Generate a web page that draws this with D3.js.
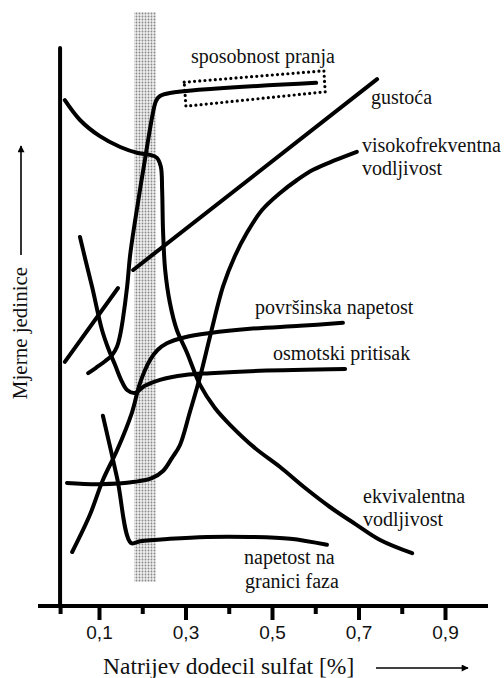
<!DOCTYPE html>
<html>
<head>
<meta charset="utf-8">
<script src="https://cdn.jsdelivr.net/npm/d3@7"></script>
<style>
  body { margin: 0; background: #fff; }
  svg { display: block; }
</style>
</head>
<body>
<svg id="chart" width="504" height="678"></svg>
<script>
// concentration values (%) and readings (arbitrary units, 0-100)
var majorTicks = [0.1, 0.3, 0.5, 0.7, 0.9];
var minorTicks = [0.2, 0.4, 0.6, 0.8];
var cmcBand = [0.181, 0.232];

var pranja = [[0.075,38.8],[0.093,39.7],[0.114,40.8],[0.130,41.8],[0.142,43.3],[0.149,45.2],[0.155,47.7],[0.165,53.2],[0.172,58.5],[0.183,64.0],[0.206,74.3],[0.225,82.3],[0.232,84.2],[0.241,85.0],[0.264,85.5],[0.602,87.2]];
var pranjaBox = [[0.297,87.3],[0.620,89.2],[0.623,85.7],[0.301,83.3]];
var gustocaLow = [[0.021,40.7],[0.144,53.0]];
var gustocaHigh = [[0.179,56.0],[0.743,87.8]];
var visokofrekventna = [[0.026,20.5],[0.102,20.3],[0.183,20.7],[0.222,21.3],[0.248,22.5],[0.269,24.7],[0.287,26.8],[0.310,32.3],[0.334,38.3],[0.357,45.0],[0.387,53.3],[0.414,58.3],[0.442,62.2],[0.477,66.0],[0.518,68.8],[0.558,71.0],[0.595,72.7],[0.646,74.3],[0.696,75.7]];
var povrsinska = [[0.038,9.0],[0.079,15.2],[0.109,21.0],[0.142,26.0],[0.176,32.2],[0.195,37.2],[0.218,41.0],[0.236,42.7],[0.257,43.8],[0.299,44.8],[0.357,45.5],[0.449,46.2],[0.565,46.7],[0.664,47.2]];
var osmotski = [[0.056,61.5],[0.070,57.3],[0.084,53.2],[0.107,46.0],[0.121,43.0],[0.137,40.2],[0.151,37.7],[0.165,36.0],[0.183,35.5],[0.206,36.7],[0.241,37.7],[0.299,38.5],[0.357,38.8],[0.472,39.2],[0.669,39.5]];
var granica = [[0.109,31.7],[0.142,21.3],[0.174,10.5],[0.195,10.8],[0.264,11.2],[0.350,11.5],[0.449,11.5],[0.542,11.2],[0.627,10.2]];
var ekvivalentna = [[0.021,84.3],[0.056,81.0],[0.102,78.3],[0.149,76.5],[0.190,75.5],[0.218,75.2],[0.234,74.7],[0.243,73.2],[0.246,69.3],[0.248,62.7],[0.253,56.0],[0.264,50.5],[0.280,46.0],[0.303,42.3],[0.334,36.8],[0.368,33.0],[0.403,30.2],[0.461,26.3],[0.518,23.2],[0.576,19.7],[0.634,16.5],[0.692,13.7],[0.750,11.0],[0.824,8.8]];

var svg = d3.select("#chart");
var serif = "Liberation Serif, Times New Roman, serif";

var x = d3.scaleLinear().domain([0, 1]).range([55.75, 488.25]);
var y = d3.scaleLinear().domain([0, 100]).range([606, 6]);

// dotted texture for the CMC band
var defs = svg.append("defs");
var pat = defs.append("pattern")
  .attr("id", "dots")
  .attr("width", 3).attr("height", 3)
  .attr("patternUnits", "userSpaceOnUse");
pat.append("rect").attr("width", 3).attr("height", 3).attr("fill", "#eeeeee");
pat.append("circle").attr("cx", 1.5).attr("cy", 1.5).attr("r", 0.9).attr("fill", "#888");

svg.append("rect")
  .attr("x", x(cmcBand[0]))
  .attr("y", y(99))
  .attr("width", x(cmcBand[1]) - x(cmcBand[0]))
  .attr("height", y(4) - y(99))
  .attr("fill", "url(#dots)");

// axes
var xAxis = svg.append("g").attr("transform", "translate(0,606)")
  .call(d3.axisBottom(x).tickValues(majorTicks).tickSize(14).tickPadding(6)
    .tickFormat(function(d) { return d3.format(".1f")(d).replace(".", ","); }));
xAxis.select(".domain").remove();
xAxis.selectAll(".tick line").attr("stroke", "#000").attr("stroke-width", 4);
xAxis.selectAll(".tick text")
  .attr("font-family", "Liberation Sans, Arial, sans-serif")
  .attr("font-size", 19)
  .attr("fill", "#111");

var xMinor = svg.append("g").attr("transform", "translate(0,606)")
  .call(d3.axisBottom(x).tickValues(minorTicks.concat([0.01])).tickSize(8).tickFormat(""));
xMinor.select(".domain").remove();
xMinor.selectAll(".tick line").attr("stroke", "#000").attr("stroke-width", 4);

svg.append("line")
  .attr("x1", 38).attr("x2", 488).attr("y1", 606).attr("y2", 606)
  .attr("stroke", "#000").attr("stroke-width", 4);
svg.append("line")
  .attr("x1", x(0.01)).attr("x2", x(0.01)).attr("y1", 48).attr("y2", 606)
  .attr("stroke", "#000").attr("stroke-width", 4).attr("stroke-linecap", "round");

// curves
var line = d3.line()
  .x(function(d) { return x(d[0]); })
  .y(function(d) { return y(d[1]); })
  .curve(d3.curveCatmullRom.alpha(0.5));

[pranja, gustocaLow, gustocaHigh, visokofrekventna, povrsinska, osmotski, granica, ekvivalentna]
  .forEach(function(s) {
    svg.append("path")
      .attr("d", line(s))
      .attr("fill", "none")
      .attr("stroke", "#000")
      .attr("stroke-width", 4)
      .attr("stroke-linecap", "round")
      .attr("stroke-linejoin", "round");
  });

// dotted box round the washing plateau
svg.append("path")
  .attr("d", d3.line().x(function(d) { return x(d[0]); }).y(function(d) { return y(d[1]); })(pranjaBox) + "Z")
  .attr("fill", "none")
  .attr("stroke", "#000")
  .attr("stroke-width", 3.2)
  .attr("stroke-linecap", "round")
  .attr("stroke-dasharray", "0 5.2");

// labels
var labels = [
  {t: "sposobnost pranja", x: 191, y: 63},
  {t: "gustoća", x: 371, y: 104},
  {t: "visokofrekventna", x: 362, y: 152},
  {t: "vodljivost", x: 362, y: 175},
  {t: "površinska napetost", x: 255, y: 314},
  {t: "osmotski pritisak", x: 273, y: 360},
  {t: "ekvivalentna", x: 363, y: 503},
  {t: "vodljivost", x: 363, y: 526},
  {t: "napetost na", x: 244, y: 564},
  {t: "granici faza", x: 245, y: 588}
];
svg.selectAll(".lbl").data(labels).enter().append("text")
  .attr("class", "lbl")
  .attr("x", function(d) { return d.x; })
  .attr("y", function(d) { return d.y; })
  .attr("font-family", serif)
  .attr("font-size", 20)
  .attr("fill", "#111")
  .text(function(d) { return d.t; });

// axis titles with arrows
defs.append("marker")
  .attr("id", "arr")
  .attr("viewBox", "0 0 10 10")
  .attr("refX", 9).attr("refY", 5)
  .attr("markerWidth", 10).attr("markerHeight", 7)
  .attr("orient", "auto")
  .attr("markerUnits", "userSpaceOnUse")
  .append("path").attr("d", "M0,0L10,5L0,10Z").attr("fill", "#000");

svg.append("text")
  .attr("x", 103).attr("y", 674)
  .attr("font-family", serif).attr("font-size", 23.5).attr("fill", "#111")
  .text("Natrijev dodecil sulfat [%]");
svg.append("line")
  .attr("x1", 376).attr("x2", 468).attr("y1", 668).attr("y2", 668)
  .attr("stroke", "#000").attr("stroke-width", 1.6)
  .attr("marker-end", "url(#arr)");

svg.append("text")
  .attr("transform", "translate(27,333) rotate(-90)")
  .attr("text-anchor", "middle")
  .attr("font-family", serif).attr("font-size", 21).attr("fill", "#111")
  .text("Mjerne jedinice");
svg.append("line")
  .attr("x1", 21).attr("x2", 21).attr("y1", 255).attr("y2", 146)
  .attr("stroke", "#000").attr("stroke-width", 1.6)
  .attr("marker-end", "url(#arr)");
</script>
</body>
</html>
